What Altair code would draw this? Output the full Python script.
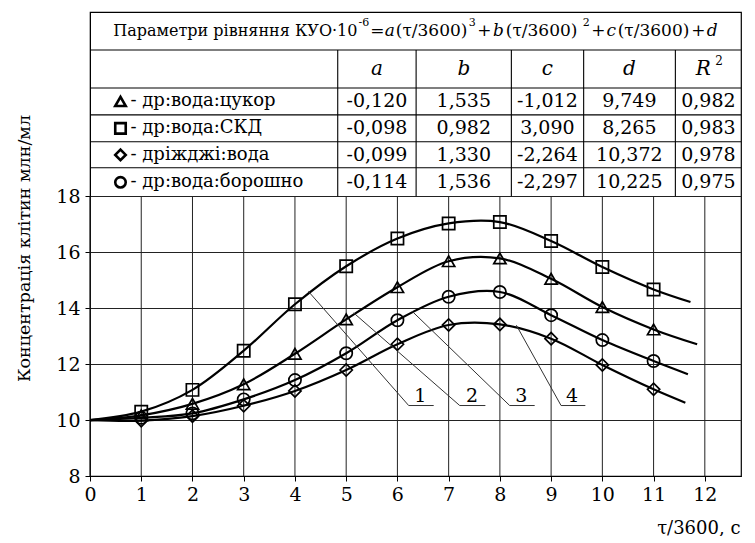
import altair as alt
import pandas as pd

# ---------------- data ----------------
hours = [1, 2, 3, 4, 5, 6, 7, 8, 9, 10, 11]
series_names = ["др:вода:цукор", "др:вода:СКД", "дріжджі:вода", "др:вода:борошно"]
series_shapes = ["triangle-up", "square", "diamond", "circle"]
sugar = [10.17, 10.58, 11.28, 12.37, 13.60, 14.75, 15.68, 15.78, 15.05, 14.04, 13.24]
skd = [10.30, 11.08, 12.48, 14.14, 15.50, 16.49, 17.03, 17.08, 16.40, 15.47, 14.67]
yeast = [9.98, 10.14, 10.51, 11.04, 11.79, 12.71, 13.40, 13.42, 12.91, 11.97, 11.10]
flour = [10.08, 10.24, 10.74, 11.43, 12.39, 13.57, 14.41, 14.58, 13.75, 12.86, 12.11]
curve_start = [0.0, 10.0]
curve_end_x = [11.85, 11.72, 11.62, 11.67]
curve_end_y = [12.71, 14.22, 10.62, 11.64]

coef_a = [-0.120, -0.098, -0.099, -0.114]
coef_b = [1.535, 0.982, 1.330, 1.536]
coef_c = [-1.012, 3.090, -2.264, -2.297]
coef_d = [9.749, 8.265, 10.372, 10.225]
coef_r2 = [0.982, 0.983, 0.978, 0.975]

x_ticks = list(range(13))
y_ticks = [8, 10, 12, 14, 16, 18]

# callouts (leader lines with numbers)
callout_labels = ["1", "2", "3", "4"]
callout_x = [[4.263, 6.22, 6.708], [5.147, 7.216, 7.717], [6.287, 8.191, 8.679], [8.322, 9.194, 9.668]]
callout_y = [[14.60, 10.52, 10.52], [13.83, 10.52, 10.52], [13.89, 10.52, 10.52], [13.39, 10.52, 10.52]]
callout_label_x = [6.449, 7.458, 8.42, 9.409]
callout_label_y = 10.63

# table geometry in data units
X_MAX = 12.706
Y_MIN, Y_MAX = 8, 24.59
table_h_lines = [23.23, 21.875, 20.91, 19.95, 19.02]
table_v_lines = [4.835, 6.365, 8.224, 9.635, 11.425]
col_centers = [5.60, 7.296, 8.927, 10.527, 12.07]
row_y = [21.39, 20.43, 19.48, 18.5]
header_y = 22.55
title_y = 23.91
label_sym_x = 0.595
label_text_x = 0.79

# equation title: first part right-aligned, rest centred; style n=normal i=italic s=superscript
title_lead = (5.220, "Параметри рівняння КУО·10")
title_parts = [
    (5.346, "-6", "s"),
    (5.610, "=", "n"),
    (5.854, "a", "i"),
    (6.667, "(τ/3600)", "n"),
    (7.463, "3", "s"),
    (7.698, "+", "n"),
    (7.971, "b", "i"),
    (8.814, "(τ/3600)", "n"),
    (9.688, "2", "s"),
    (9.922, "+", "n"),
    (10.176, "c", "i"),
    (10.999, "(τ/3600)", "n"),
    (11.873, "+", "n"),
    (12.146, "d", "i"),
]
header_letters = ["a", "b", "c", "d", "R"]

FONT = "DejaVu Serif"

# ---------------- tables ----------------
series_vals = [sugar, skd, yeast, flour]
line_rows, pt_rows = [], []
for i, name in enumerate(series_names):
    line_rows.append({"series": name, "k": 0, "x": curve_start[0], "y": curve_start[1]})
    for j, h in enumerate(hours):
        line_rows.append({"series": name, "k": j + 1, "x": h, "y": series_vals[i][j]})
        pt_rows.append({"series": name, "x": h, "y": series_vals[i][j]})
    line_rows.append({"series": name, "k": 99, "x": curve_end_x[i], "y": curve_end_y[i]})
lines_df = pd.DataFrame(line_rows)
pts_df = pd.DataFrame(pt_rows)

xs = alt.Scale(domain=[0, X_MAX], nice=False, zero=False)
ys = alt.Scale(domain=[Y_MIN, Y_MAX], nice=False, zero=False)
xaxis = alt.Axis(values=x_ticks, grid=False, tickSize=5, tickColor="black", domainColor="black",
                 labelFont=FONT, labelFontSize=19, labelColor="black", labelPadding=4,
                 labelFlush=False, labelOverlap=False,
                 title="τ/3600, с", titleFont=FONT, titleFontSize=18, titleFontWeight="normal",
                 titleColor="black", titleX=650, titleY=52, titleAlign="right",
                 titleBaseline="middle", titleAngle=0)
yaxis = alt.Axis(values=y_ticks, grid=True, gridColor="#222", gridWidth=1, tickSize=5,
                 tickColor="black", domainColor="black", labelFont=FONT, labelFontSize=19,
                 labelColor="black", labelPadding=5, labelFlush=False, labelOverlap=False,
                 title="Концентрація клітин млн/мл", titleFont=FONT, titleFontSize=17.5,
                 titleFontWeight="normal", titleColor="black", titleX=-66, titleY=236,
                 titleAngle=-90, titleAlign="center", titleBaseline="middle")


def X(f="x"):
    return alt.X(f, type="quantitative", scale=xs, axis=xaxis)


def Y(f="y"):
    return alt.Y(f, type="quantitative", scale=ys, axis=yaxis)


# vertical grid lines (only inside plotting region)
vgrid_df = pd.DataFrame({"x": x_ticks, "y": [8] * len(x_ticks), "y2": [18] * len(x_ticks)})
vgrid = alt.Chart(vgrid_df).mark_rule(color="#222", strokeWidth=1).encode(x=X(), y=Y(), y2="y2")

# table lines
th_df = pd.DataFrame({"x": [0] * len(table_h_lines), "x2": [X_MAX] * len(table_h_lines), "y": table_h_lines})
th = alt.Chart(th_df).mark_rule(color="black", strokeWidth=1.1).encode(x=X(), x2="x2", y=Y())
tv_df = pd.DataFrame({"x": table_v_lines, "y": [18] * len(table_v_lines), "y2": [table_h_lines[0]] * len(table_v_lines)})
tv = alt.Chart(tv_df).mark_rule(color="black", strokeWidth=1.1).encode(x=X(), y=Y(), y2="y2")

# curves and markers
curves = alt.Chart(lines_df).mark_line(interpolate="catmull-rom", color="black", strokeWidth=2.2).encode(
    x=X(), y=Y(), detail="series:N", order="k:Q")
shape_enc = alt.Shape("series:N", scale=alt.Scale(domain=series_names, range=series_shapes), legend=None)
markers = alt.Chart(pts_df).mark_point(filled=False, size=150, strokeWidth=1.7, color="black", opacity=1).encode(
    x=X(), y=Y(), shape=shape_enc)

# callouts
co_rows = []
for i, lab in enumerate(callout_labels):
    for k in range(3):
        co_rows.append({"id": lab, "k": k, "x": callout_x[i][k], "y": callout_y[i][k]})
co_df = pd.DataFrame(co_rows)
callouts = alt.Chart(co_df).mark_line(color="#333", strokeWidth=1).encode(
    x=X(), y=Y(), detail="id:N", order="k:Q")
co_lab_df = pd.DataFrame({"x": callout_label_x, "y": [callout_label_y] * 4, "t": callout_labels})
co_text = alt.Chart(co_lab_df).mark_text(font=FONT, fontSize=19, color="black", baseline="alphabetic").encode(
    x=X(), y=Y(), text="t:N")

# table title
lead_df = pd.DataFrame({"x": [title_lead[0]], "y": [title_y], "t": [title_lead[1]]})
t_lead = alt.Chart(lead_df).mark_text(font=FONT, fontSize=16, align="right", baseline="middle",
                                      color="black").encode(x=X(), y=Y(), text="t:N")
tp = pd.DataFrame([{"x": p[0], "t": p[1], "s": p[2]} for p in title_parts])
tp_n = tp[tp.s == "n"].assign(y=title_y)
tp_i = tp[tp.s == "i"].assign(y=title_y)
tp_s = tp[tp.s == "s"].assign(y=title_y + 0.30)
t_norm = alt.Chart(tp_n).mark_text(font=FONT, fontSize=17, align="center", baseline="middle", color="black").encode(
    x=X(), y=Y(), text="t:N")
t_ital = alt.Chart(tp_i).mark_text(font=FONT, fontSize=17, fontStyle="italic", align="center", baseline="middle",
                                   color="black").encode(x=X(), y=Y(), text="t:N")
t_sup = alt.Chart(tp_s).mark_text(font=FONT, fontSize=11, align="center", baseline="middle", color="black").encode(
    x=X(), y=Y(), text="t:N")

# header row
hdr_df = pd.DataFrame({"x": col_centers[:4] + [11.97], "y": [header_y] * 5, "t": header_letters})
hdr = alt.Chart(hdr_df).mark_text(font=FONT, fontSize=20, fontStyle="italic", baseline="middle", color="black").encode(
    x=X(), y=Y(), text="t:N")
hdr_sup_df = pd.DataFrame({"x": [12.28], "y": [header_y + 0.30], "t": ["2"]})
hdr_sup = alt.Chart(hdr_sup_df).mark_text(font=FONT, fontSize=12, baseline="middle", color="black").encode(
    x=X(), y=Y(), text="t:N")

# row labels
sym_df = pd.DataFrame({"x": [label_sym_x] * 4, "y": row_y, "series": series_names})
syms = alt.Chart(sym_df).mark_point(filled=False, size=110, strokeWidth=2.6, color="black", opacity=1).encode(
    x=X(), y=Y(), shape=shape_enc)
lab_df = pd.DataFrame({"x": [label_text_x] * 4, "y": row_y, "t": ["- " + n for n in series_names]})
labs = alt.Chart(lab_df).mark_text(font=FONT, fontSize=18, align="left", baseline="middle", color="black").encode(
    x=X(), y=Y(), text="t:N")


def fmt(v):
    return f"{v:.3f}".replace(".", ",")


num_rows = []
for r in range(4):
    vals = [coef_a[r], coef_b[r], coef_c[r], coef_d[r], coef_r2[r]]
    for c in range(5):
        num_rows.append({"x": col_centers[c], "y": row_y[r], "t": fmt(vals[c])})
nums = alt.Chart(pd.DataFrame(num_rows)).mark_text(font=FONT, fontSize=19, baseline="middle", color="black").encode(
    x=X(), y=Y(), text="t:N")

chart = alt.layer(
    vgrid, th, tv, curves, markers, callouts, co_text, t_lead, t_norm, t_ital, t_sup, hdr, hdr_sup, syms, labs, nums
).properties(
    width=651, height=464,
    autosize=alt.AutoSizeParams(type="none"),
    padding={"left": 82, "top": 4, "right": 6, "bottom": 60},
    background="white",
).configure_view(stroke="black", strokeWidth=1.2)

chart.save("out.html", embed_options={"renderer": "svg", "actions": False})
